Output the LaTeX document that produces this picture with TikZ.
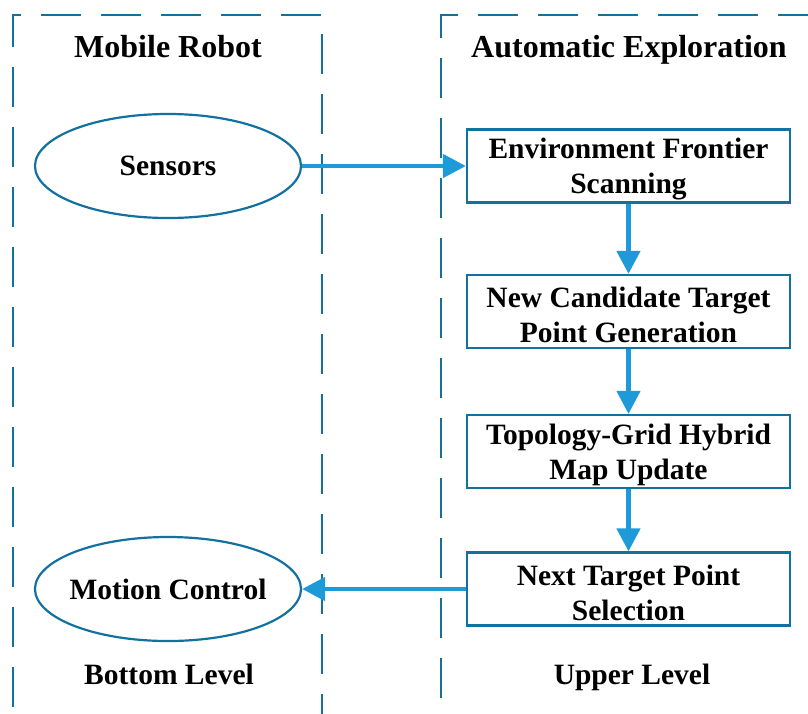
\documentclass[tikz,border=0pt]{standalone}
\usepackage{fontspec}
\setmainfont{Liberation Serif}
\usetikzlibrary{shapes.geometric,arrows.meta}
\definecolor{frameblue}{RGB}{19,113,160}
\definecolor{flowblue}{RGB}{30,154,216}
\tikzset{
  panel/.style={draw=frameblue, line width=2.5pt, dash pattern=on 40pt off 20pt},
  unit/.style={ellipse, draw=frameblue, line width=2.2pt, minimum width=266pt,
    minimum height=104pt, inner xsep=-14pt, inner ysep=0pt,
    font=\bfseries\fontsize{29.5}{35}\selectfont},
  stepbox/.style={rectangle, draw=frameblue, line width=2.2pt, minimum width=323pt,
    minimum height=73pt, inner sep=0pt},
  boxtext/.style={align=center, inner sep=0pt, yshift=-3.5pt,
    font=\bfseries\fontsize{29.5}{35}\selectfont},
  header/.style={anchor=base, font=\bfseries\fontsize{32}{38}\selectfont},
  level/.style={anchor=base, font=\bfseries\fontsize{29.5}{35}\selectfont},
  flow/.style={draw=flowblue, line width=4.5pt,
    -{Triangle[length=23pt, width=23pt]}}
}
\begin{document}
\begin{tikzpicture}[x=1pt, y=-1pt]
  \useasboundingbox (0,0) rectangle (808,713);
  \clip (0,0) rectangle (808,713);

  % dashed panel outlines (open at the bottom)
  \draw[panel] (13,767) -- (13,15) -- (322,15) -- (322,767);
  \draw[panel] (441,758) -- (441,15) -- (860,15);

  % panel titles
  \node[header] (tl) at (168,57) {Mobile Robot};
  \node[header] (tr) at (629,57) {Automatic Exploration};

  % robot side
  \node[unit] (sens) at (168,166) {Sensors};
  \node[unit] (motion) at (168,589) {Motion Control};

  % exploration pipeline: frames, then their captions
  \node[stepbox] (scan) at (628.5,166) {};
  \node[stepbox] (cand) at (628.5,311.5) {};
  \node[stepbox] (map) at (628.5,451.5) {};
  \node[stepbox] (next) at (628.5,589) {};
  \node[boxtext] (scant) at (scan) {Environment Frontier\\Scanning};
  \node[boxtext] (candt) at (cand) {New Candidate Target\\Point Generation};
  \node[boxtext] (mapt) at (map) {Topology-Grid Hybrid\\Map Update};
  \node[boxtext] (nextt) at (next) {Next Target Point\\Selection};

  % level captions
  \node[level] (bl) at (169,684) {Bottom Level};
  \node[level] (ul) at (632,684) {Upper Level};

  % connectors
  \draw[flow] (sens.east) -- (scan.west);
  \draw[flow] (scan.south) -- (cand.north);
  \draw[flow] (cand.south) -- (map.north);
  \draw[flow] (map.south) -- (next.north);
  \draw[flow] (next.west) -- (motion.east);
\end{tikzpicture}
\end{document}
